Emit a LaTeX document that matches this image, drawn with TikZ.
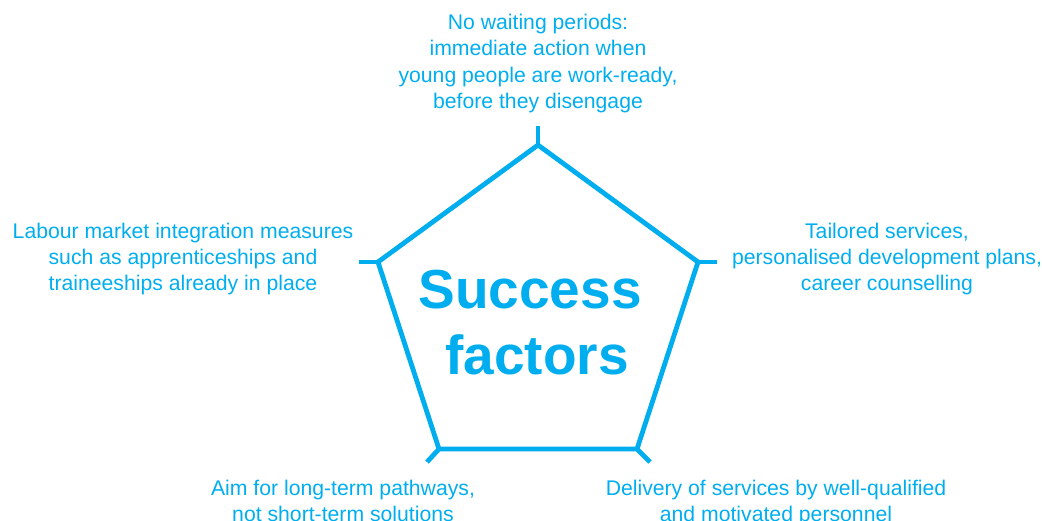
\documentclass[tikz,border=0pt]{standalone}
\usepackage{fontspec}
\setmainfont{Liberation Sans}
\definecolor{sfblue}{RGB}{0,174,239}
\begin{document}
\begin{tikzpicture}[x=1pt,y=-1pt,
  lbl/.style={text=sfblue,align=center,font=\fontsize{21.2}{26.2}\selectfont,inner sep=0pt},
  ttl/.style={text=sfblue,font=\bfseries\fontsize{55}{65}\selectfont,inner sep=0pt},
  edge/.style={draw=sfblue,line width=4.8pt,line join=miter},
  spoke/.style={draw=sfblue,line width=4.8pt}]
\useasboundingbox (0,0) rectangle (1042,520);
\clip (0,0) rectangle (1042,520);
\coordinate (vt) at (538,145);
\coordinate (vl) at (378,262);
\coordinate (vr) at (698,262);
\coordinate (vbl) at (439,449);
\coordinate (vbr) at (637,449);
\coordinate (st) at (538,126);
\coordinate (sl) at (359,262);
\coordinate (sr) at (717,262);
\coordinate (sbl) at (427,462);
\coordinate (sbr) at (650,462);
\draw[edge] (vt) -- (vr) -- (vbr) -- (vbl) -- (vl) -- cycle;
\draw[spoke] (vt) -- (st);
\draw[spoke] (vl) -- (sl);
\draw[spoke] (vr) -- (sr);
\draw[spoke] (vbl) -- (sbl);
\draw[spoke] (vbr) -- (sbr);
\node[ttl] (title1) at (530,290) {Success};
\node[ttl] (title2) at (537,355) {factors};
\node[lbl] (top) at (538,63.5) {No waiting periods:\\immediate action when\\young people are work-ready,\\before they disengage};
\node[lbl] (left) at (183,259) {Labour market integration measures\\such as apprenticeships and\\traineeships already in place};
\node[lbl] (right) at (887,259) {Tailored services,\\personalised development plans,\\career counselling};
\node[lbl,anchor=north] (bl) at (343,480) {Aim for long-term pathways,\\not short-term solutions};
\node[lbl,anchor=north] (br) at (776,480) {Delivery of services by well-qualified\\and motivated personnel};
\end{tikzpicture}
\end{document}
